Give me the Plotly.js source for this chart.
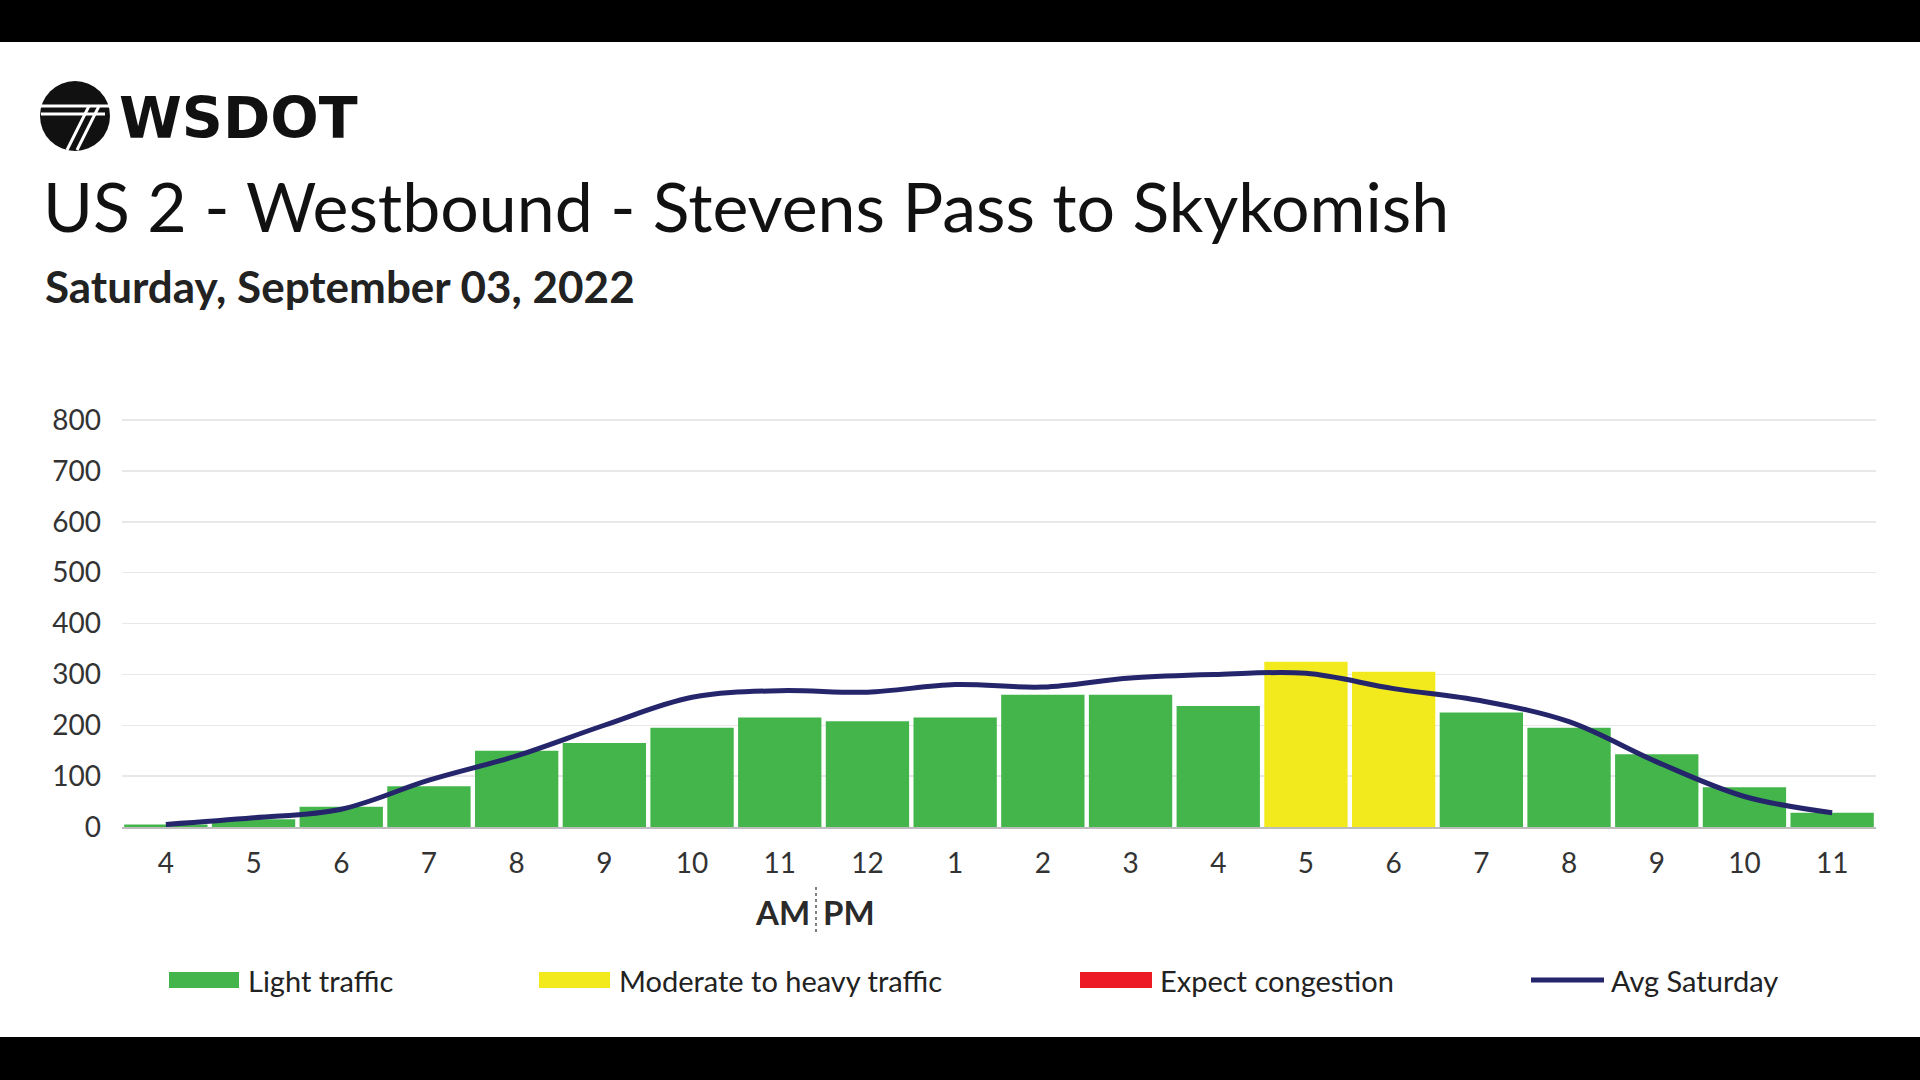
<!DOCTYPE html>
<html>
<head>
<meta charset="utf-8">
<script src="https://cdn.plot.ly/plotly-3.0.1.min.js"></script>
<style>
  html, body { margin:0; padding:0; background:#000; width:1920px; height:1080px; overflow:hidden; }
  #chart { position:absolute; left:0; top:42px; width:1920px; height:995px; background:#fff; }
</style>
</head>
<body>
<div id="chart"></div>
<script>
// ---- data ----
const hourLabels = ['4','5','6','7','8','9','10','11','12','1','2','3','4','5','6','7','8','9','10','11'];
const volume = [5, 15, 40, 80, 150, 165, 195, 215, 208, 215, 260, 260, 238, 325, 305, 225, 195, 143, 78, 28];
const status = ['light','light','light','light','light','light','light','light','light','light','light','light','light','moderate','moderate','light','light','light','light','light'];
const avgSaturday = [5, 18, 35, 92, 140, 200, 255, 268, 265, 280, 275, 293, 300, 302, 272, 248, 207, 128, 60, 28];
const yTicks = [0,100,200,300,400,500,600,700,800];
const legendNames = ['Light traffic','Moderate to heavy traffic','Expect congestion','Avg Saturday'];

const COLORS = {light:'#43b54b', moderate:'#f2ea1d', heavy:'#ed1c24'};
const LINE = '#25256c';
const FONT = 'Lato, "Open Sans", sans-serif';

const xs = hourLabels.map((_, i) => i);

// page coordinate helpers (page y; div starts at 42)
const L = 122, R = 1876, B = 827, Y800 = 420;
const pxPerUnit = (B - Y800) / 800;
const T = 415;
const yMax = (B - T) / pxPerUnit;
const px = x => (x - L) / (R - L);
const py = y => (B - y) / (B - T);

const traces = [
  {
    type:'bar', x: xs, y: volume,
    marker:{color: status.map(s => COLORS[s]), line:{width:0}},
    showlegend:false, hoverinfo:'y'
  },
  {
    type:'scatter', mode:'lines', x: xs, y: avgSaturday,
    line:{color: LINE, width:5, shape:'spline', smoothing:1},
    showlegend:false
  }
];

const shapes = [];
const annotations = [];

// Legend (manual)
const legendItems = [
  {name: legendNames[0], color: COLORS.light, x0:169, x1:239, kind:'box', tx:246},
  {name: legendNames[1], color: COLORS.moderate, x0:539, x1:610, kind:'box', tx:617},
  {name: legendNames[2], color: COLORS.heavy, x0:1080, x1:1152, kind:'box', tx:1158},
  {name: legendNames[3], color: LINE, x0:1531, x1:1604, kind:'line', tx:1609}
];
const legY = 980;
legendItems.forEach(it => {
  if (it.kind === 'box') {
    shapes.push({type:'rect', xref:'paper', yref:'paper', x0:px(it.x0), x1:px(it.x1), y0:py(legY+8), y1:py(legY-8), fillcolor:it.color, line:{width:0}});
  } else {
    shapes.push({type:'line', xref:'paper', yref:'paper', x0:px(it.x0), x1:px(it.x1), y0:py(legY), y1:py(legY), line:{color:it.color, width:5}});
  }
  annotations.push({xref:'paper', yref:'paper', x:px(it.tx), y:py(legY), xanchor:'left', yanchor:'middle', showarrow:false, text:it.name, font:{family:FONT, size:29, color:'#222'}});
});

// AM | PM
annotations.push({xref:'paper', yref:'paper', x:px(812), y:py(912), xanchor:'right', yanchor:'middle', showarrow:false, text:'<b>AM</b>', font:{family:FONT, size:33, color:'#2a2a2a'}});
annotations.push({xref:'paper', yref:'paper', x:px(821), y:py(912), xanchor:'left', yanchor:'middle', showarrow:false, text:'<b>PM</b>', font:{family:FONT, size:33, color:'#2a2a2a'}});
shapes.push({type:'line', xref:'paper', yref:'paper', x0:px(816), x1:px(816), y0:py(887), y1:py(933), line:{color:'#555', width:1.5, dash:'dot'}});

// Subtitle
annotations.push({xref:'paper', yref:'paper', x:px(43), y:py(286), xanchor:'left', yanchor:'middle', showarrow:false, text:'<b>Saturday, September 03, 2022</b>', font:{family:FONT, size:44, color:'#222'}});

// Logo
const cx = 75, cy = 116, r = 35;
shapes.push({type:'circle', xref:'paper', yref:'paper', x0:px(cx-r), x1:px(cx+r), y0:py(cy+r), y1:py(cy-r), fillcolor:'#111', line:{width:0}});
shapes.push({type:'line', xref:'paper', yref:'paper', x0:px(cx-34), x1:px(cx+34), y0:py(cy-10), y1:py(cy-10), line:{color:'#fff', width:3}});
shapes.push({type:'line', xref:'paper', yref:'paper', x0:px(cx-34), x1:px(cx+30), y0:py(cy-2), y1:py(cy-2), line:{color:'#fff', width:3}});
shapes.push({type:'line', xref:'paper', yref:'paper', x0:px(cx+14), x1:px(cx-8), y0:py(cy-10), y1:py(cy+34), line:{color:'#fff', width:3}});
shapes.push({type:'line', xref:'paper', yref:'paper', x0:px(cx+24), x1:px(cx+2), y0:py(cy-10), y1:py(cy+34), line:{color:'#fff', width:3}});
annotations.push({xref:'paper', yref:'paper', x:px(117), y:py(118), xanchor:'left', yanchor:'middle', showarrow:false, text:'<b>WSDOT</b>', font:{family:'"DejaVu Sans", sans-serif', size:57, color:'#111'}});

const layout = {
  width:1920, height:995,
  margin:{l:L, r:1920-R, t:T-42, b:1037-B, pad:0},
  paper_bgcolor:'#fff', plot_bgcolor:'#fff',
  title:{
    text:'US 2 - Westbound - Stevens Pass to Skykomish',
    xref:'container', yref:'container', x:43/1920, xanchor:'left',
    y:1 - (208-42)/995, yanchor:'middle',
    font:{family:FONT, size:68, color:'#111'}
  },
  bargap:0.05,
  xaxis:{
    range:[-0.5, 19.5], tickmode:'array', tickvals:xs, ticktext:hourLabels,
    ticks:'', showgrid:false, zeroline:false, showline:true, linecolor:'#bdbdbd', linewidth:2,
    tickfont:{family:FONT, size:28, color:'#333'}, ticklabelstandoff:10, fixedrange:true
  },
  xaxis2:{
    overlaying:'x', anchor:'y', matches:'x', range:[-0.5, 19.5], tickmode:'array',
    tickvals:xs.concat([xs.length]).map(v => v - 0.5), showticklabels:false,
    ticks:'outside', ticklen:9, tickcolor:'#bdbdbd', tickwidth:1.5, showgrid:false, zeroline:false, showline:false
  },
  yaxis:{
    range:[0, yMax], tickmode:'array', tickvals:yTicks, ticks:'',
    showgrid:true, gridcolor:'#e8e8e8', gridwidth:1.5, zeroline:false, showline:false,
    tickfont:{family:FONT, size:28, color:'#333'}, ticklabelstandoff:20, fixedrange:true
  },
  shapes, annotations,
  showlegend:false
};

Plotly.newPlot('chart', traces, layout, {displayModeBar:false, staticPlot:true});
</script>
</body>
</html>
